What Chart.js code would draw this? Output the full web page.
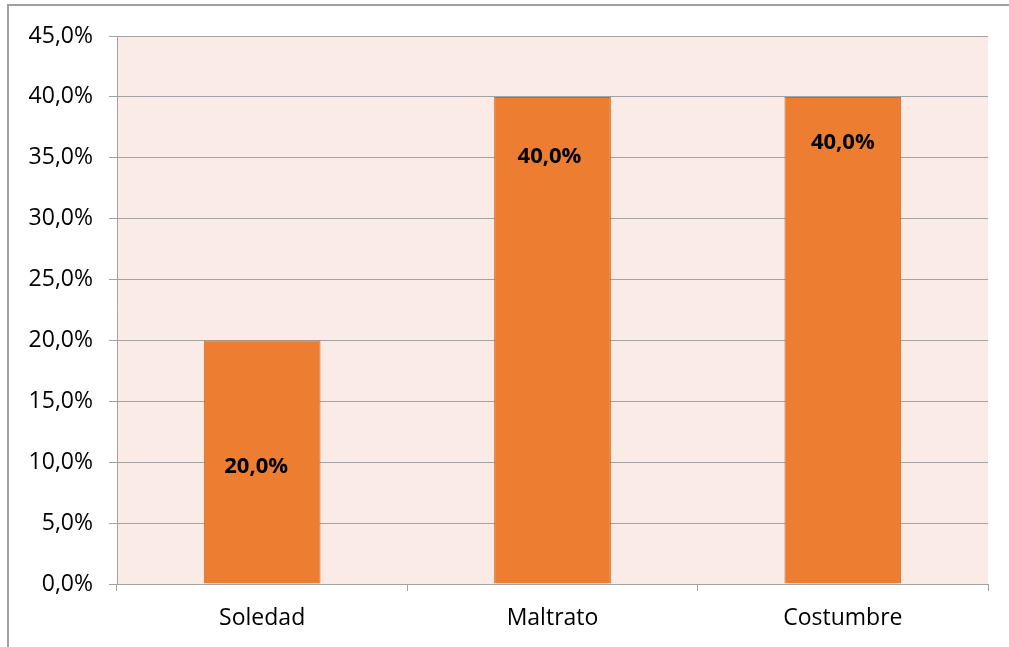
<!DOCTYPE html>
<html><head><meta charset="utf-8">
<script src="https://cdn.jsdelivr.net/npm/chart.js@4/dist/chart.umd.min.js"></script>
<style>html,body{margin:0;padding:0;background:#fff}#w{width:1009px;height:647px;position:relative}</style>
</head><body><div id="w"><canvas id="c" width="1009" height="647"></canvas></div>
<script>
const categories = ['Soledad', 'Maltrato', 'Costumbre'];
const values = [20.0, 40.0, 40.0];
const yTicks = [0, 5, 10, 15, 20, 25, 30, 35, 40, 45];

const fmt = v => v.toFixed(1).replace('.', ',') + '%';
const FONT = '"Open Sans", sans-serif';
const GRID = '#a3a3a3';

const bgPlugin = {
  id: 'bg',
  beforeDraw(chart) {
    const {ctx, chartArea: a} = chart;
    ctx.save();
    ctx.fillStyle = '#fff';
    ctx.fillRect(0, 0, chart.width, chart.height);
    ctx.fillStyle = '#fbebe6';
    ctx.fillRect(a.left, a.top, a.right - a.left, a.bottom - a.top);
    ctx.strokeStyle = '#a0a0a0';
    ctx.lineWidth = 2;
    ctx.beginPath();
    ctx.moveTo(8, chart.height);
    ctx.lineTo(8, 5);
    ctx.lineTo(chart.width, 5);
    ctx.stroke();
    ctx.restore();
  }
};

// label anchor as fraction of bar height from the top (as placed in the original)
const labelPos = [0.52, 0.123, 0.095];
const labelPlugin = {
  id: 'lbl',
  afterDatasetsDraw(chart) {
    const {ctx} = chart;
    const meta = chart.getDatasetMeta(0);
    ctx.save();
    ctx.font = 'bold 22px ' + FONT;
    ctx.fillStyle = '#000';
    ctx.textAlign = 'center';
    ctx.textBaseline = 'middle';
    meta.data.forEach((bar, i) => {
      const y = bar.y + (bar.base - bar.y) * labelPos[i];
      ctx.fillText(fmt(values[i]), bar.x - (i === 0 ? 6 : (i === 1 ? 3 : 0)), y);
    });
    ctx.restore();
  }
};

new Chart(document.getElementById('c'), {
  type: 'bar',
  data: {
    labels: categories,
    datasets: [{
      data: values,
      backgroundColor: '#ed7d31',
      borderColor: '#c96a2b',
      borderWidth: 1,
      categoryPercentage: 1,
      barPercentage: 0.402
    }]
  },
  options: {
    responsive: false,
    animation: false,
    layout: {padding: {top: 36, right: 21, left: 0, bottom: 0}},
    plugins: {legend: {display: false}, tooltip: {enabled: false}},
    scales: {
      x: {
        grid: {offset: true, drawOnChartArea: false, drawTicks: true, tickLength: 7, color: GRID},
        border: {display: true, color: GRID, width: 1},
        ticks: {color: '#000', font: {family: FONT, size: 23}, padding: 14},
        afterFit(s) { s.height = 63; }
      },
      y: {
        min: 0, max: 45,
        afterBuildTicks(s) { s.ticks = yTicks.map(v => ({value: v})); },
        grid: {color: GRID, drawTicks: true, tickLength: 8},
        border: {display: true, color: GRID, width: 1},
        ticks: {color: '#000', font: {family: FONT, size: 23}, padding: 16, callback: v => fmt(v)},
        afterFit(s) { s.width = 117; }
      }
    }
  },
  plugins: [bgPlugin, labelPlugin]
});
</script>
</body></html>
